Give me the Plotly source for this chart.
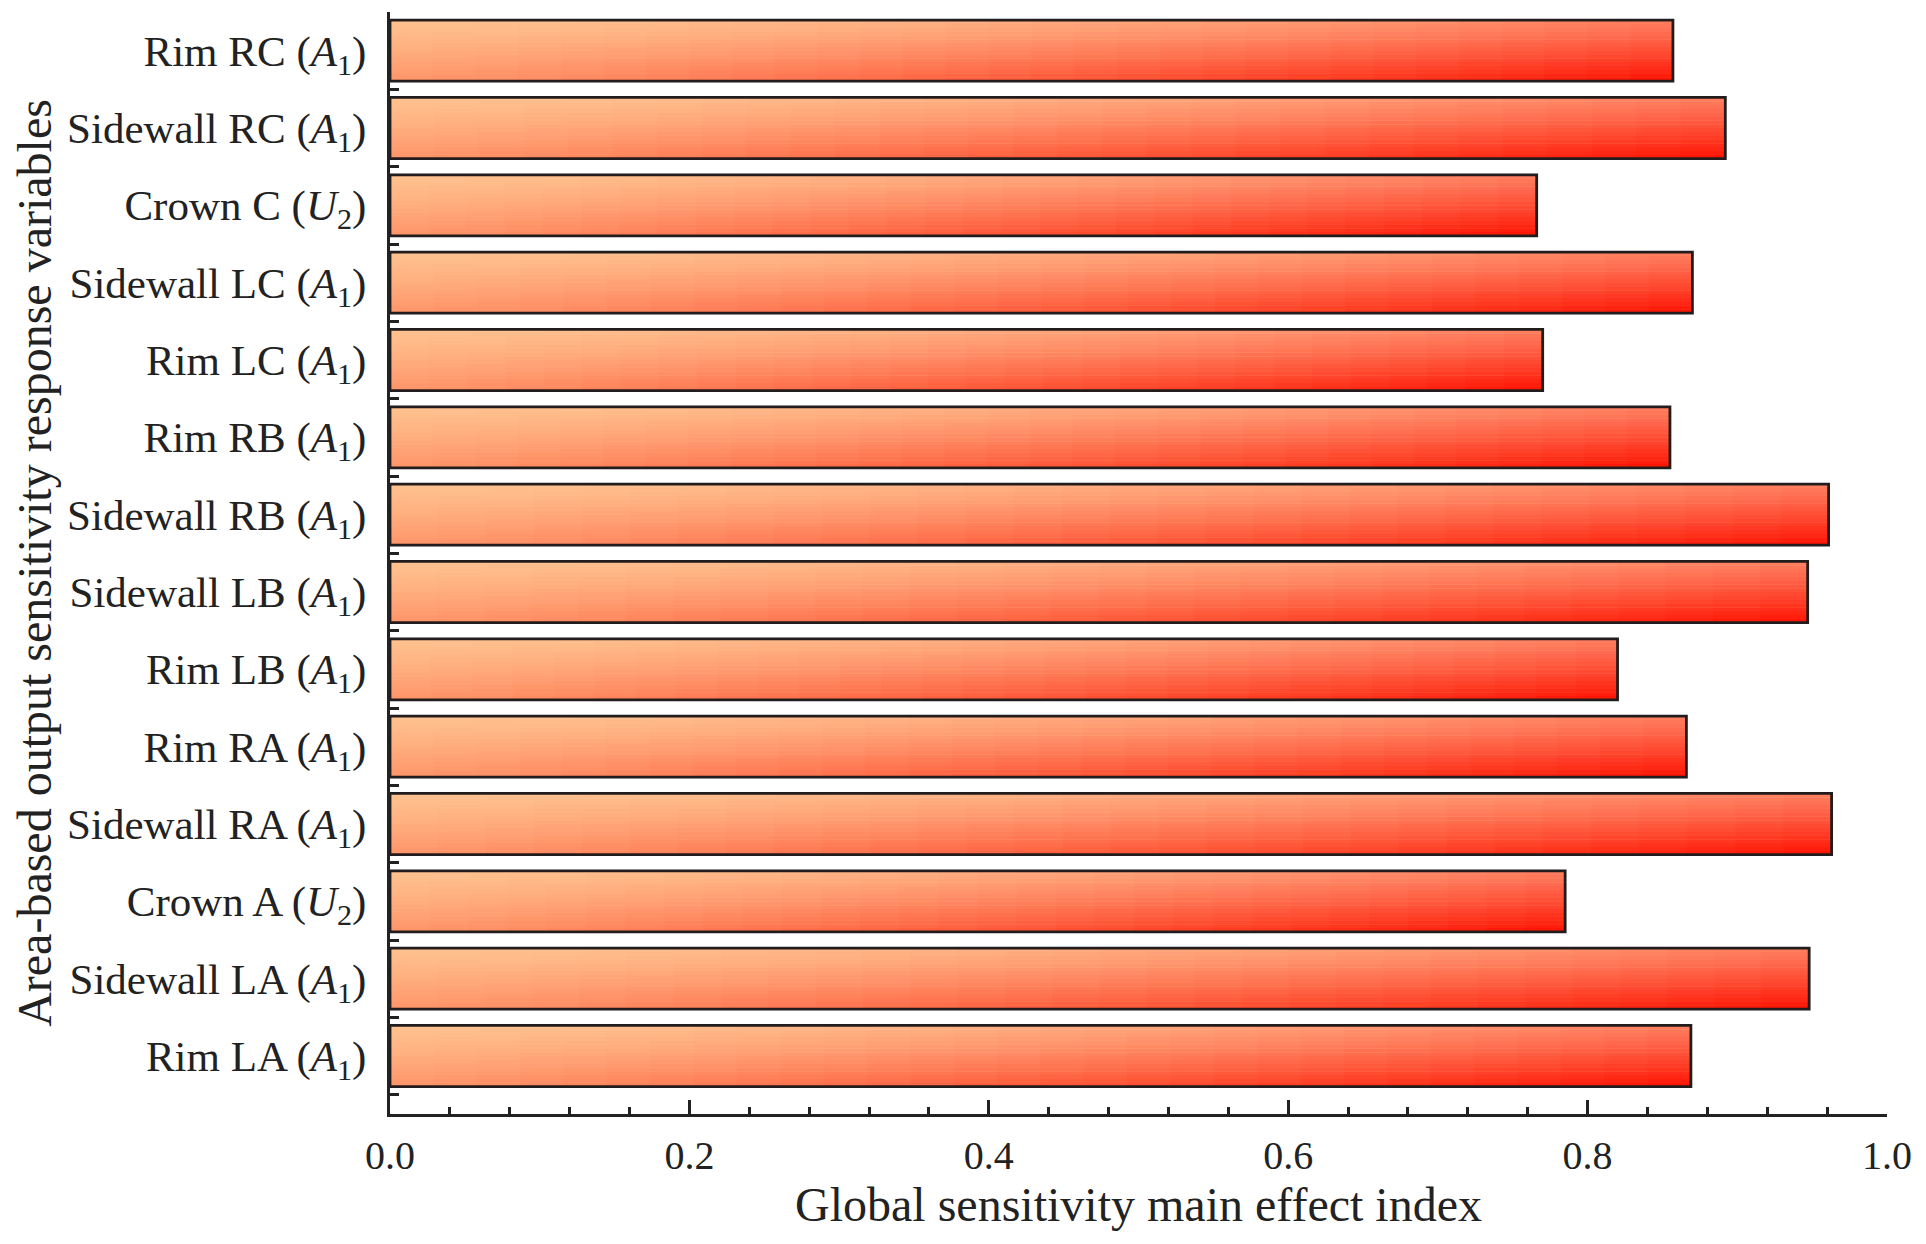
import plotly.graph_objects as go

# --- data (bottom to top, as drawn) ---
labels = [
    "Rim LA (<i>A</i><sub>1</sub>)",
    "Sidewall LA (<i>A</i><sub>1</sub>)",
    "Crown A (<i>U</i><sub>2</sub>)",
    "Sidewall RA (<i>A</i><sub>1</sub>)",
    "Rim RA (<i>A</i><sub>1</sub>)",
    "Rim LB (<i>A</i><sub>1</sub>)",
    "Sidewall LB (<i>A</i><sub>1</sub>)",
    "Sidewall RB (<i>A</i><sub>1</sub>)",
    "Rim RB (<i>A</i><sub>1</sub>)",
    "Rim LC (<i>A</i><sub>1</sub>)",
    "Sidewall LC (<i>A</i><sub>1</sub>)",
    "Crown C (<i>U</i><sub>2</sub>)",
    "Sidewall RC (<i>A</i><sub>1</sub>)",
    "Rim RC (<i>A</i><sub>1</sub>)",
]
main_effect = [0.869, 0.948, 0.785, 0.963, 0.866, 0.820, 0.947,
               0.961, 0.855, 0.770, 0.870, 0.766, 0.892, 0.857]

x_ticks = [0.0, 0.2, 0.4, 0.6, 0.8, 1.0]

# --- styling ---
FONT = "Liberation Serif"
INK = "#222"
BAR_W = 0.79
N_V = 16   # vertical steps of the gradient
N_H = 30   # horizontal steps of the gradient

# corner colours of the bar gradient
TL = (255, 194, 144)
TR = (255, 124, 94)
BL = (255, 150, 106)
BR = (255, 16, 0)


def grad_color(h, v):
    ht = h ** 1.6
    hb = h ** 1.1
    top = [TL[k] + (TR[k] - TL[k]) * ht for k in range(3)]
    bot = [BL[k] + (BR[k] - BL[k]) * hb for k in range(3)]
    vv = v ** 1.15
    c = [top[k] + (bot[k] - top[k]) * vv for k in range(3)]
    return "rgb(%d,%d,%d)" % tuple(round(x) for x in c)


fig = go.Figure()

# gradient fill: each layer starts further up / further right and is drawn
# over the previous ones, so no seams show between the steps
for i in range(N_V):
    v = 1 - (i + 0.5) / N_V          # i = 0 is the bottom (reddest) step
    for j in range(N_H):
        h = (j + 0.5) / N_H
        fig.add_trace(go.Bar(
            y=labels,
            x=[val * (1 - j / N_H) for val in main_effect],
            base=[val * j / N_H for val in main_effect],
            orientation="h",
            width=BAR_W * (1 - i / N_V),
            offset=-BAR_W / 2 + i * BAR_W / N_V,
            marker=dict(color=grad_color(h, v), line=dict(width=0)),
            showlegend=False,
            hoverinfo="skip",
        ))

# outline
fig.add_trace(go.Bar(
    y=labels, x=main_effect, orientation="h",
    width=BAR_W,
    marker=dict(color="rgba(0,0,0,0)", line=dict(color="#221c1c", width=2.8)),
    showlegend=False,
))

fig.update_layout(
    width=1926, height=1244,
    barmode="overlay",
    plot_bgcolor="white", paper_bgcolor="white",
    margin=dict(l=382, r=47, t=4, b=138),
    font=dict(family=FONT, size=40, color=INK),
)

fig.update_xaxes(
    range=[0, 1.0],
    tickvals=x_ticks, tickformat=".1f",
    ticks="inside", ticklen=14, tickwidth=3, tickcolor=INK,
    minor=dict(dtick=0.04, tick0=0, ticks="inside", ticklen=7,
               tickwidth=3, tickcolor=INK),
    showline=True, linewidth=3, linecolor=INK,
    showgrid=False, zeroline=False,
    ticklabelstandoff=4,
    title=dict(text="Global sensitivity main effect index",
               font=dict(size=48), standoff=10),
)

fig.update_yaxes(
    type="category",
    range=[-0.75, 13.5],
    tickson="boundaries",
    tickfont=dict(size=43),
    ticks="inside", ticklen=9, tickwidth=3, tickcolor=INK,
    showline=True, linewidth=3, linecolor=INK,
    showgrid=False, zeroline=False,
    ticklabelstandoff=12,
    title=dict(text="Area-based output sensitivity response variables",
               font=dict(size=48), standoff=19),
)

fig.write_html("out.html")
